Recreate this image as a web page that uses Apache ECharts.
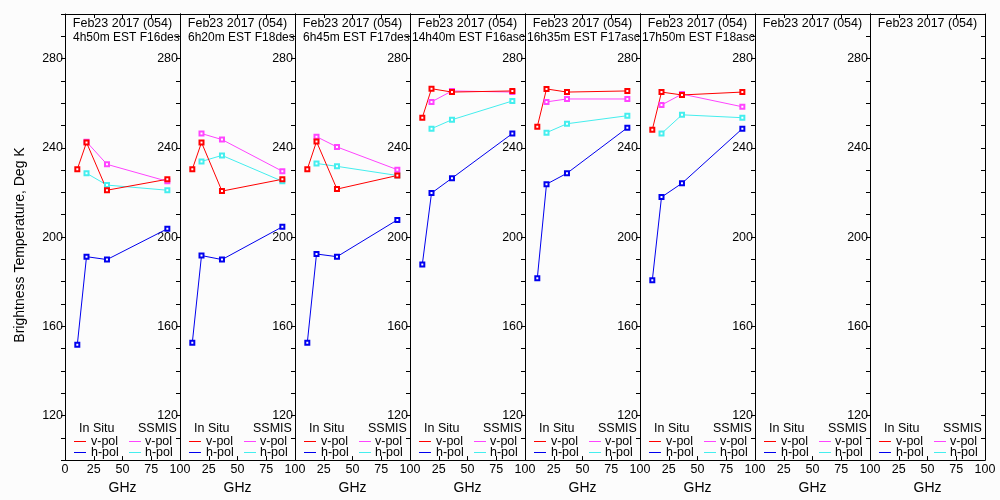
<!DOCTYPE html>
<html>
<head>
<meta charset="utf-8">
<script src="https://cdn.jsdelivr.net/npm/echarts@6/dist/echarts.min.js"></script>
<style>html,body{margin:0;padding:0;background:#fcfcfc;}#c{width:1000px;height:500px;}</style>
</head>
<body>
<div id="c"></div>
<script>
const inSituFreq = [10.7, 18.7, 36.5, 89];
const ssmisFreq = [18.7, 36.5, 89];
const titleLine1 = ['Feb23 2017 (054)','Feb23 2017 (054)','Feb23 2017 (054)','Feb23 2017 (054)','Feb23 2017 (054)','Feb23 2017 (054)','Feb23 2017 (054)','Feb23 2017 (054)'];
const titleLine2 = ['4h50m EST F16des','6h20m EST F18des','6h45m EST F17des','14h40m EST F16asc','16h35m EST F17asc','17h50m EST F18asc','',''];
const inSituV = [[230.4,242.4,221,225.9],[230.4,242.4,220.6,225.9],[230.4,242.8,221.5,227.6],[253.5,266.5,265,265.5],[249.5,266.4,265,265.5],[248.1,265,263.7,265],[],[]];
const inSituH = [[151.7,191.2,189.9,203.7],[152.6,191.7,189.9,204.6],[152.6,192.4,191.2,207.7],[187.7,219.7,226.4,246.4],[181.5,223.7,228.6,249],[180.6,217.9,224.1,248.6],[],[]];
const ssmisV = [[242.7,232.6,225],[246.4,243.7,229.5],[245,240.4,230.2],[260.6,265.5,265],[260.6,261.9,261.9],[259.2,264.1,258.4],[],[]];
const ssmisH = [[228.6,223.3,221],[233.9,236.6,225],[233,231.7,227.6],[248.6,252.6,261],[246.8,250.8,254.4],[246.4,254.8,253.5],[],[]];
const yTickLabels = [120,160,200,240,280];
const xTickLabels = [0,25,50,75,100];

const FONT = 'Liberation Sans';
const C_RED = '#ff0000', C_BLUE = '#0000ee', C_MAG = '#ff44ff', C_CYAN = '#44eeee';
const N = 8, L0 = 65, W = 115, TOP = 14, H = 450;

const grid = [], xAxis = [], yAxis = [], series = [], graphic = [];
for (let i = 0; i < N; i++) {
  const left = L0 + W * i;
  grid.push({left: left, top: TOP, width: W, height: H, containLabel: false});
  xAxis.push({
    type: 'value', gridIndex: i, min: 0, max: 100, interval: 25, position: 'bottom',
    axisLine: {show: true, onZero: false, lineStyle: {color: '#000', width: 1}},
    axisTick: {show: true, inside: true, length: 4, lineStyle: {color: '#000'}},
    axisLabel: {show: true, margin: 3, color: '#000', fontFamily: FONT, fontSize: 12.5,
      formatter: v => (xTickLabels.indexOf(v) >= 0 && !(i > 0 && v === 0)) ? String(v) : ''},
    splitLine: {show: false},
    name: 'GHz', nameLocation: 'middle', nameGap: 19,
    nameTextStyle: {color: '#000', fontFamily: FONT, fontSize: 14}
  });
  xAxis.push({
    type: 'value', gridIndex: i, min: 0, max: 100, interval: 25, position: 'top',
    axisLine: {show: true, onZero: false, lineStyle: {color: '#000', width: 1}},
    axisTick: {show: true, inside: true, length: 4, lineStyle: {color: '#000'}},
    axisLabel: {show: false}, splitLine: {show: false}
  });
  yAxis.push({
    type: 'value', gridIndex: i, min: 100, max: 300, interval: 10, position: 'left',
    axisLine: {show: true, onZero: false, lineStyle: {color: '#000', width: 1}},
    axisTick: {show: true, inside: false, length: 4, lineStyle: {color: '#000'}},
    axisLabel: {show: true, margin: 2, color: '#000', fontFamily: FONT, fontSize: 12.5,
      formatter: v => yTickLabels.indexOf(v) >= 0 ? String(v) : ''},
    splitLine: {show: false}
  });
  yAxis.push({
    type: 'value', gridIndex: i, min: 100, max: 300, interval: 10, position: 'right',
    axisLine: {show: true, onZero: false, lineStyle: {color: '#000', width: 1}},
    axisTick: {show: true, inside: true, length: 4, lineStyle: {color: '#000'}},
    axisLabel: {show: false}, splitLine: {show: false}
  });
  const xi = 2 * i, yi = 2 * i;
  const mk = (freq, vals, color) => ({
    type: 'line', xAxisIndex: xi, yAxisIndex: yi,
    data: vals.map((v, k) => [freq[k], v]),
    symbol: 'emptyRect', symbolSize: 4, showSymbol: true,
    lineStyle: {color: color, width: 1}, itemStyle: {color: color, borderColor: color, borderWidth: 1},
    animation: false, silent: true
  });
  series.push(mk(inSituFreq, inSituH[i], C_BLUE));
  series.push(mk(ssmisFreq, ssmisH[i], C_CYAN));
  series.push(mk(ssmisFreq, ssmisV[i], C_MAG));
  series.push(mk(inSituFreq, inSituV[i], C_RED));

  const ts = {fill: '#000', font: '12.5px "' + FONT + '"', textVerticalAlign: 'middle'};
  graphic.push({type: 'text', x: left + W / 2, y: 24, z: 10,
    style: Object.assign({text: titleLine1[i], textAlign: 'center'}, ts)});
  if (titleLine2[i]) {
    const off = titleLine2[i].indexOf('h') === 1 ? 8 : 2;
    graphic.push({type: 'text', x: left + off, y: 38, z: 10,
      style: Object.assign({}, ts, {text: titleLine2[i], textAlign: 'left', font: '12px "' + FONT + '"'})});
  }

  graphic.push({type: 'text', x: left + 14, y: 429, style: Object.assign({text: 'In Situ'}, ts)});
  graphic.push({type: 'text', x: left + 73, y: 429, style: Object.assign({text: 'SSMIS'}, ts)});
  const rows = [[441.5, 'v-pol', C_RED, C_MAG], [452.5, 'h-pol', C_BLUE, C_CYAN]];
  rows.forEach(r => {
    graphic.push({type: 'line', shape: {x1: left + 9, y1: r[0], x2: left + 21, y2: r[0]}, style: {stroke: r[2], lineWidth: 1}});
    graphic.push({type: 'text', x: left + 26, y: r[0], style: Object.assign({text: r[1]}, ts)});
    graphic.push({type: 'line', shape: {x1: left + 64, y1: r[0], x2: left + 76, y2: r[0]}, style: {stroke: r[3], lineWidth: 1}});
    graphic.push({type: 'text', x: left + 80, y: r[0], style: Object.assign({text: r[1]}, ts)});
  });
}
graphic.push({type: 'text', x: 20, y: 245, rotation: Math.PI / 2,
  style: {text: 'Brightness Temperature, Deg K', fill: '#000', font: '14px "' + FONT + '"', textAlign: 'center', textVerticalAlign: 'middle'}});

const chart = echarts.init(document.getElementById('c'));
chart.setOption({
  backgroundColor: '#fcfcfc',
  animation: false,
  grid: grid, xAxis: xAxis, yAxis: yAxis, series: series, graphic: graphic
});
</script>
</body>
</html>
